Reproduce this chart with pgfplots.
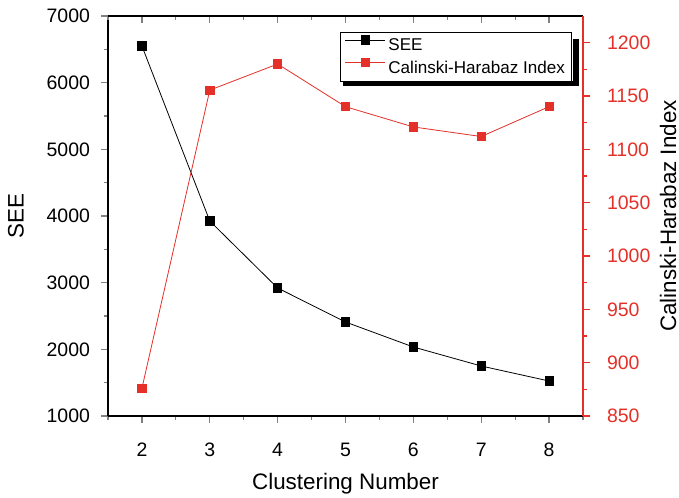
\documentclass[border=0pt]{standalone}
\usepackage{fontspec}
\setmainfont{Liberation Sans}
\usepackage{pgfplots}
\pgfplotsset{compat=1.18}
\definecolor{chred}{RGB}{228,48,40}
\begin{document}
\begin{tikzpicture}
\pgfplotsset{every axis/.append style={
  scale only axis, width=356.25pt, height=300pt,
  xmin=1.5, xmax=8.5, xtick={2,...,8}, minor xtick={1.5,2.5,...,8.5},
  /pgf/number format/assume math mode=true,
  tick label style={font=\fontsize{14.6}{17}\selectfont},
  label style={font=\fontsize{16.8}{20}\selectfont},
  major tick length=5pt, minor tick length=3pt,
  axis line style={line width=1pt},
  tick style={line width=0.9pt},
}}
\begin{axis}[name=main,
  axis x line*=bottom, axis y line*=left, tick align=outside,
  ymin=1000, ymax=7000, ytick={1000,2000,...,7000}, minor ytick={1500,2500,...,6500},
  scaled y ticks=false, yticklabel style={/pgf/number format/1000 sep={}, xshift=-5pt},
  xticklabel style={yshift=-11.5pt},
  xlabel={Clustering Number}, ylabel={SEE},
  xlabel style={at={(axis description cs:0.5,-0.1825)}, anchor=base},
  ylabel style={at={(axis description cs:-0.194,0.5)}, anchor=center},
]
\addplot[black, line width=0.6pt, mark=square*, mark size=3.1pt] coordinates {
(2,6550) (3,3925) (4,2920) (5,2410) (6,2035) (7,1750) (8,1525)};
\end{axis}
\begin{axis}[
  axis x line*=top, axis y line*=right,
  xticklabels={}, xtick align=inside, ytick align=outside,
  ymin=850, ymax=1225, ytick={850,900,...,1200}, minor ytick={875,925,...,1175},
  y axis line style={draw=chred},
  ytick style={draw=chred},
  yticklabel style={text=chred, /pgf/number format/1000 sep={}, xshift=9.5pt},
  ylabel={Calinski-Harabaz Index},
  ylabel style={at={(axis description cs:1.179,0.5)}, anchor=center},
  legend style={at={(0.9768,0.96)}, anchor=north east, draw=black, fill=white,
    line width=0.7pt,
    font=\fontsize{12.8}{15}\selectfont, inner xsep=3pt, inner ysep=2.5pt,
    /tikz/every even column/.append style={column sep=1pt},
    row sep=2.5pt},
  legend cell align=left,
  legend image code/.code={\draw[mark repeat=2, mark phase=2] plot coordinates {(0pt,4.3pt) (15pt,4.3pt) (30pt,4.3pt)};},
]
\addlegendimage{black, line width=0.6pt, mark=square*, mark size=3.1pt}
\addlegendentry{SEE}
\addplot[chred, line width=0.6pt, mark=square*, mark size=3.1pt] coordinates {
(2,876) (3,1155.5) (4,1180) (5,1140) (6,1121) (7,1112) (8,1140)};
\addlegendentry{Calinski-Harabaz Index}
\end{axis}
\fill[black] ([shift={(348.4pt,247.5pt)}]main.south west) rectangle ([shift={(353.25pt,282.75pt)}]main.south west);
\fill[black] ([shift={(176.25pt,247.5pt)}]main.south west) rectangle ([shift={(353.25pt,251.6pt)}]main.south west);
\pgfresetboundingbox
\path[use as bounding box] ([xshift=-81pt,yshift=-60.75pt]main.south west) rectangle ([xshift=72pt,yshift=12pt]main.north east);
\end{tikzpicture}
\end{document}
